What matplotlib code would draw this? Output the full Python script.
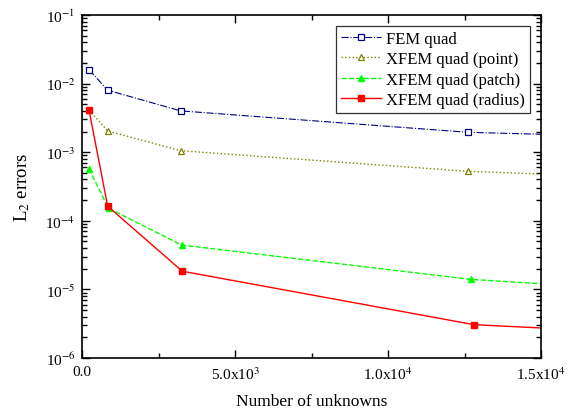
import matplotlib
matplotlib.use("Agg")
import matplotlib.pyplot as plt
from matplotlib.ticker import FixedLocator, MultipleLocator, LogLocator, NullFormatter

plt.rcParams['font.family'] = ['Liberation Serif', 'DejaVu Serif']
plt.rcParams['mathtext.fontset'] = 'stix'

# Data (last point lies beyond the visible x-range and is clipped)
x_fem = [220, 830, 3220, 12610, 50000]
y_fem = [0.0160, 0.0080, 0.0040, 0.00195, 0.00069]
x_point = [220, 830, 3220, 12610, 50000]
y_point = [0.0041, 0.00204, 0.00105, 0.000526, 0.000129]
x_patch = [220, 860, 3250, 12700, 50000]
y_patch = [0.00057, 0.000152, 4.43e-5, 1.40e-5, 1.28e-6]
x_radius = [220, 830, 3270, 12810, 50000]
y_radius = [0.0041, 0.000163, 1.84e-5, 3.06e-6, 4.7e-7]

labels = ["FEM quad", "XFEM quad (point)", "XFEM quad (patch)", "XFEM quad (radius)"]
xticks = [0, 5000, 10000, 15000]
xticklabels = ["0.0", r"5.0x10$^3$", r"1.0x10$^4$", r"1.5x10$^4$"]
yticks = [1e-6, 1e-5, 1e-4, 1e-3, 1e-2, 1e-1]
yticklabels = [r"10$^{-6}$", r"10$^{-5}$", r"10$^{-4}$", r"10$^{-3}$", r"10$^{-2}$", r"10$^{-1}$"]

fig = plt.figure(figsize=(5.68, 4.10), dpi=100)
ax = fig.add_axes([0.1449, 0.1244, 0.8076, 0.8366])

ax.plot(x_fem, y_fem, color='#000080', linestyle='-.', linewidth=0.8, marker='s',
        markersize=4, markerfacecolor='white', markeredgecolor='#000080', markeredgewidth=0.9, label=labels[0])
ax.plot(x_point, y_point, color='#808000', linestyle=':', linewidth=1.0, marker='^',
        markersize=5, markerfacecolor='white', markeredgecolor='#808000', markeredgewidth=0.9, label=labels[1])
ax.plot(x_patch, y_patch, color='#00ff00', linestyle='--', linewidth=1.0, marker='^',
        markersize=5, markerfacecolor='#00ff00', markeredgecolor='#00ff00', label=labels[2])
ax.plot(x_radius, y_radius, color='#ff0000', linestyle='-', linewidth=1.0, marker='s',
        markersize=4.5, markerfacecolor='#ff0000', markeredgecolor='#ff0000', label=labels[3])

ax.set_yscale('log')
ax.set_xlim(0, 15000)
ax.set_ylim(1e-6, 1e-1)

ax.xaxis.set_major_locator(FixedLocator(xticks))
ax.set_xticklabels(xticklabels)
ax.xaxis.set_minor_locator(MultipleLocator(2500))
ax.yaxis.set_major_locator(FixedLocator(yticks))
ax.set_yticklabels(yticklabels)
ax.yaxis.set_minor_locator(LogLocator(base=10, subs=range(2, 10)))
ax.yaxis.set_minor_formatter(NullFormatter())

ax.tick_params(which='both', direction='in', top=True, right=True, labelsize=11, width=1.0)
ax.tick_params(which='major', length=6)
ax.tick_params(which='minor', length=3.5)
ax.tick_params(axis='x', which='major', pad=5)
ax.tick_params(axis='y', which='major', pad=5)
for s in ax.spines.values():
    s.set_linewidth(1.2)

ax.set_xlabel("Number of unknowns", fontsize=12.5, labelpad=8.5)
ax.set_ylabel(r"L$_2$ errors", fontsize=13.5, labelpad=10)

leg = ax.legend(loc='upper right', bbox_to_anchor=(0.976, 0.968), borderaxespad=0,
                fontsize=12, frameon=True, fancybox=False, edgecolor='black',
                handlelength=2.4, borderpad=0.3, labelspacing=0.26, handletextpad=0.3)
leg.get_frame().set_linewidth(0.9)

fig.savefig("out.png", dpi=100)
